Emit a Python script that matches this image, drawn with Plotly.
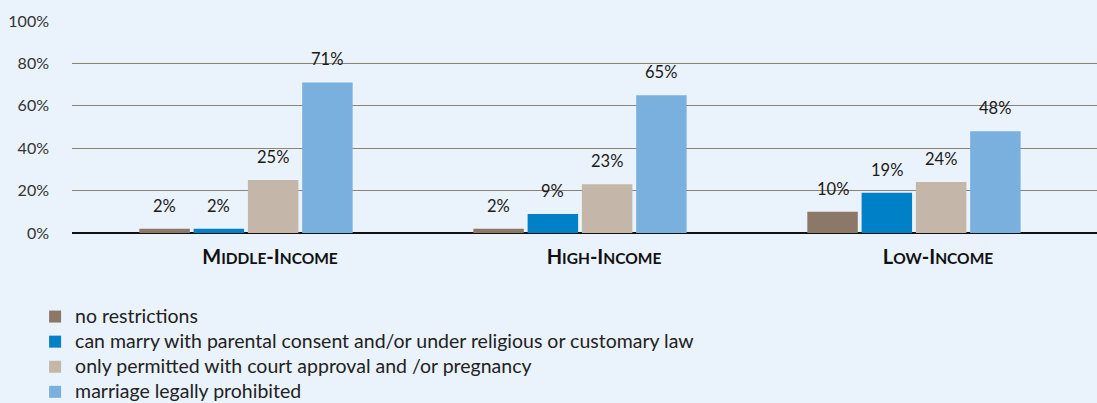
import plotly.graph_objects as go

categories = ["Middle-Income", "High-Income", "Low-Income"]
cat_labels = [
    "<b>M<span style='font-size:15.5px'>IDDLE</span>-I<span style='font-size:15.5px'>NCOME</span></b>",
    "<b>H<span style='font-size:15.5px'>IGH</span>-I<span style='font-size:15.5px'>NCOME</span></b>",
    "<b>L<span style='font-size:15.5px'>OW</span>-I<span style='font-size:15.5px'>NCOME</span></b>",
]
series_names = [
    "no restrictions",
    "can marry with parental consent and/or under religious or customary law",
    "only permitted with court approval and /or pregnancy",
    "marriage legally prohibited",
]
no_restrictions = [2, 2, 10]
parental_consent = [2, 9, 19]
court_approval = [25, 23, 24]
prohibited = [71, 65, 48]
series_values = [no_restrictions, parental_consent, court_approval, prohibited]
colors = ["#8B7866", "#0080C6", "#C4B6A8", "#7AB0DE"]
y_ticks = [0, 20, 40, 60, 80, 100]

W, H = 1097, 403
ML, MR, MT, MB = 72, 0, 21, 170
XR = [-0.521, 2.548]
BARGAP, GROUPGAP = 0.35, 0.07

fig = go.Figure()
for name, vals, col in zip(series_names, series_values, colors):
    fig.add_trace(go.Bar(
        x=categories, y=vals,
        name=f"<span style='font-size:19.5px'>{name}</span>",
        marker=dict(color=col, line=dict(width=0)),
        cliponaxis=False,
    ))

# value labels placed above bars
px_per_cat = (W - ML - MR) / (XR[1] - XR[0])
slot = px_per_cat * (1 - BARGAP) / len(series_values)
n = len(series_values)
for i, vals in enumerate(series_values):
    off = (i - (n - 1) / 2) * slot
    for c, v in zip(categories, vals):
        fig.add_annotation(
            x=c, y=v, text=f"{v}%", showarrow=False, xref="x", yref="y",
            yanchor="bottom", xshift=off, yshift=11,
            font=dict(size=16.5, color="#1a1a1a"),
        )

fig.update_layout(
    width=W, height=H,
    margin=dict(l=ML, r=MR, t=MT, b=MB),
    paper_bgcolor="#EAF2FB", plot_bgcolor="#EAF2FB",
    font=dict(family="Lato, 'Open Sans', sans-serif", color="#222222"),
    barmode="group", bargap=BARGAP, bargroupgap=GROUPGAP,
    showlegend=True,
    legend=dict(orientation="v", x=-0.036, xanchor="left",
                yref="container", y=1 - 299 / H, yanchor="top",
                font=dict(size=17, color="#222222"), bgcolor="rgba(0,0,0,0)",
                itemwidth=30, tracegroupgap=0, traceorder="normal"),
)
fig.update_xaxes(
    range=XR, tickmode="array", tickvals=categories, ticktext=cat_labels,
    tickfont=dict(size=20, color="#111111"), showgrid=False, showline=False, ticks="",
    ticklabelstandoff=10, ticklabelshift=24,
)
fig.update_yaxes(
    range=[0, 100], tickvals=y_ticks, ticktext=[f"{t}%" for t in y_ticks],
    tickfont=dict(size=16, color="#333333"), showgrid=True, gridcolor="#8A8478", gridwidth=1,
    zeroline=True, zerolinecolor="#111111", zerolinewidth=1.5, ticklabelstandoff=22,
    showline=False,
)
fig.write_html(
    "out.html",
    config={"displayModeBar": False},
    post_script="document.body.style.margin='0';document.body.style.background='#EAF2FB';",
)
